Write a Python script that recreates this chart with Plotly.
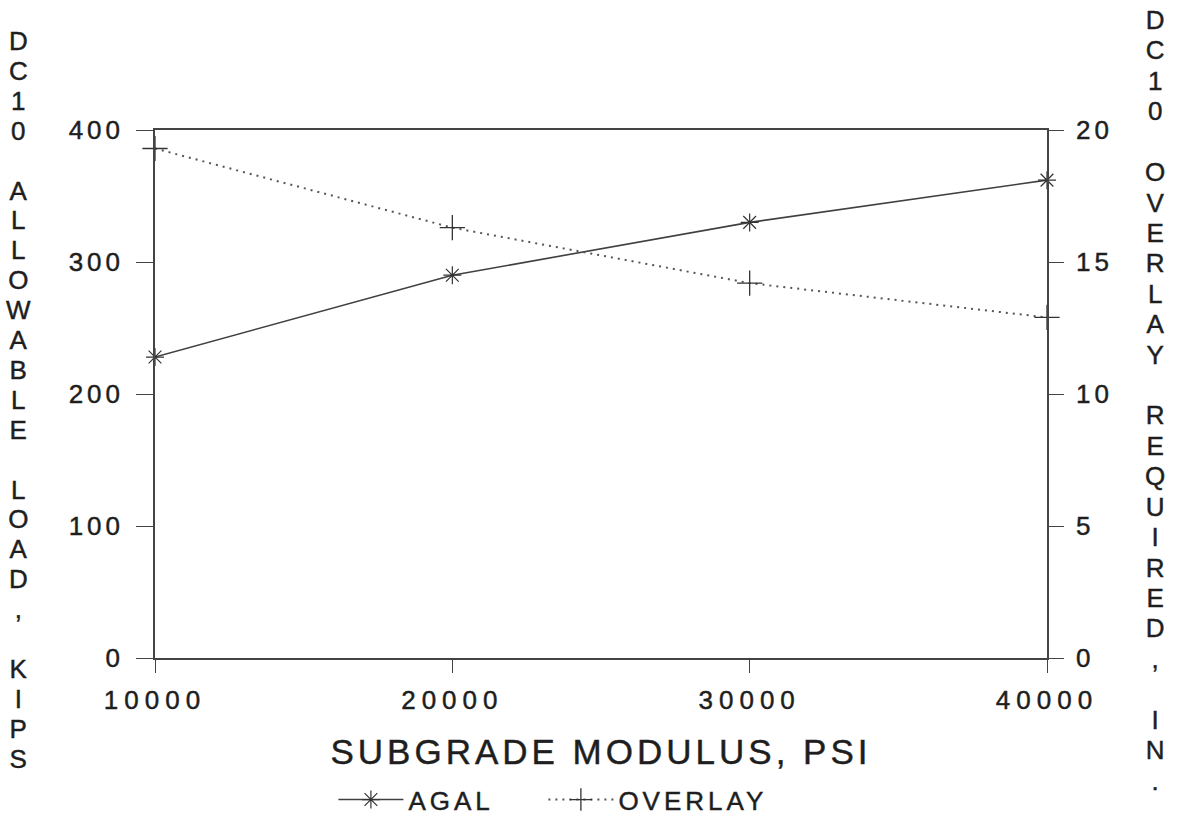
import plotly.graph_objects as go

# ---- data ----
subgrade_modulus = [10000, 20000, 30000, 40000]
agal_load = [228, 290, 330, 362]          # left axis, kips
overlay_required = [19.3, 16.3, 14.2, 12.9]  # right axis, in.

x_ticks = [10000, 20000, 30000, 40000]
y_ticks = [0, 100, 200, 300, 400]
y2_ticks = [0, 5, 10, 15, 20]

left_title = "DC10 ALLOWABLE LOAD, KIPS"
right_title = "DC10 OVERLAY REQUIRED, IN."
x_title = "SUBGRADE MODULUS, PSI"

INK = "#1e1e1e"
AX = "#444444"
FONT = "Liberation Sans, Arial, sans-serif"

fig = go.Figure()
fig.add_trace(go.Scatter(
    x=subgrade_modulus, y=agal_load, name="AGAL", mode="lines+markers",
    line=dict(color="#404040", width=1.6),
    marker=dict(symbol="asterisk-open", size=15, color="#333333",
                line=dict(color="#333333", width=1.2)),
    cliponaxis=False, yaxis="y"))
fig.add_trace(go.Scatter(
    x=subgrade_modulus, y=overlay_required, name="OVERLAY", mode="lines+markers",
    line=dict(color="#555555", width=2, dash="2px,5px"),
    marker=dict(symbol="cross-thin-open", size=18, color="#333333",
                line=dict(color="#333333", width=1.3)),
    cliponaxis=False, yaxis="y2"))


def stack(s, px):
    return "<br>".join(
        "<span style='font-size:%dpx'>%s</span>" % (px, ch) if ch != " " else "&nbsp;"
        for ch in s)


fig.update_layout(
    width=1177, height=821,
    margin=dict(l=155, r=130, t=130, b=163, autoexpand=False),
    paper_bgcolor="white", plot_bgcolor="white",
    font=dict(family=FONT, color=INK, size=26),
    showlegend=True,
    legend=dict(orientation="h", x=0.2, xanchor="left",
                yref="container", y=0.026, yanchor="middle",
                font=dict(size=26, color=INK), bgcolor="rgba(0,0,0,0)",
                itemwidth=65, entrywidth=130, entrywidthmode="pixels"),
    xaxis=dict(range=[10000, 40000], tickvals=x_ticks, ticktext=[str(v) for v in x_ticks],
               showgrid=False, zeroline=False, showline=True, linecolor=AX, linewidth=1.5,
               mirror=True, ticks="outside", ticklen=13, tickcolor=AX, tickwidth=1.3,
               ticklabelstandoff=5, tickfont=dict(size=26, color=INK), automargin=False,
               title=dict(text=x_title, font=dict(size=35, color=INK), standoff=26)),
    yaxis=dict(range=[0, 400], tickvals=y_ticks, showgrid=False, zeroline=False,
               showline=True, linecolor=AX, linewidth=1.5, ticks="outside", ticklen=17,
               tickcolor=AX, tickwidth=1.3, ticklabelstandoff=7, automargin=False,
               tickfont=dict(size=26, color=INK)),
    yaxis2=dict(range=[0, 20], tickvals=y2_ticks, overlaying="y", side="right",
                showgrid=False, zeroline=False, showline=True, linecolor=AX, linewidth=1.5,
                ticks="outside", ticklen=15, tickcolor=AX, tickwidth=1.3, automargin=False,
                ticklabelstandoff=7, tickfont=dict(size=26, color=INK)),
    annotations=[
        dict(text=stack(left_title, 26), xref="paper", yref="paper", x=-0.153, y=0.489,
             xanchor="center", yanchor="middle", showarrow=False,
             font=dict(size=23, color=INK, family=FONT)),
        dict(text=stack(right_title, 26), xref="paper", yref="paper", x=1.121, y=0.488,
             xanchor="center", yanchor="middle", showarrow=False,
             font=dict(size=23.4, color=INK, family=FONT)),
    ],
)

post_script = """
var gd = document.getElementById('{plot_id}');
function applyLS(){
  var sel = [['.xtick text','6px'],['.ytick text','4px'],['.y2tick text','4px'],
             ['.g-xtitle text','4px'],['.legendtext','4px']];
  sel.forEach(function(p){
    gd.querySelectorAll(p[0]).forEach(function(t){ t.style.letterSpacing = p[1]; });
  });
  gd.querySelectorAll('.legend .scrollbox').forEach(function(e){ e.removeAttribute('clip-path'); });
  gd.querySelectorAll('.legend').forEach(function(e){ e.style.overflow = 'visible'; });
  gd.querySelectorAll('svg.main-svg text').forEach(function(t){
    t.style.stroke = '#1e1e1e'; t.style.strokeWidth = '0.45px';
  });
}
applyLS();
if (gd.on) { gd.on('plotly_afterplot', applyLS); }
"""

fig.write_html("out.html", post_script=post_script)
